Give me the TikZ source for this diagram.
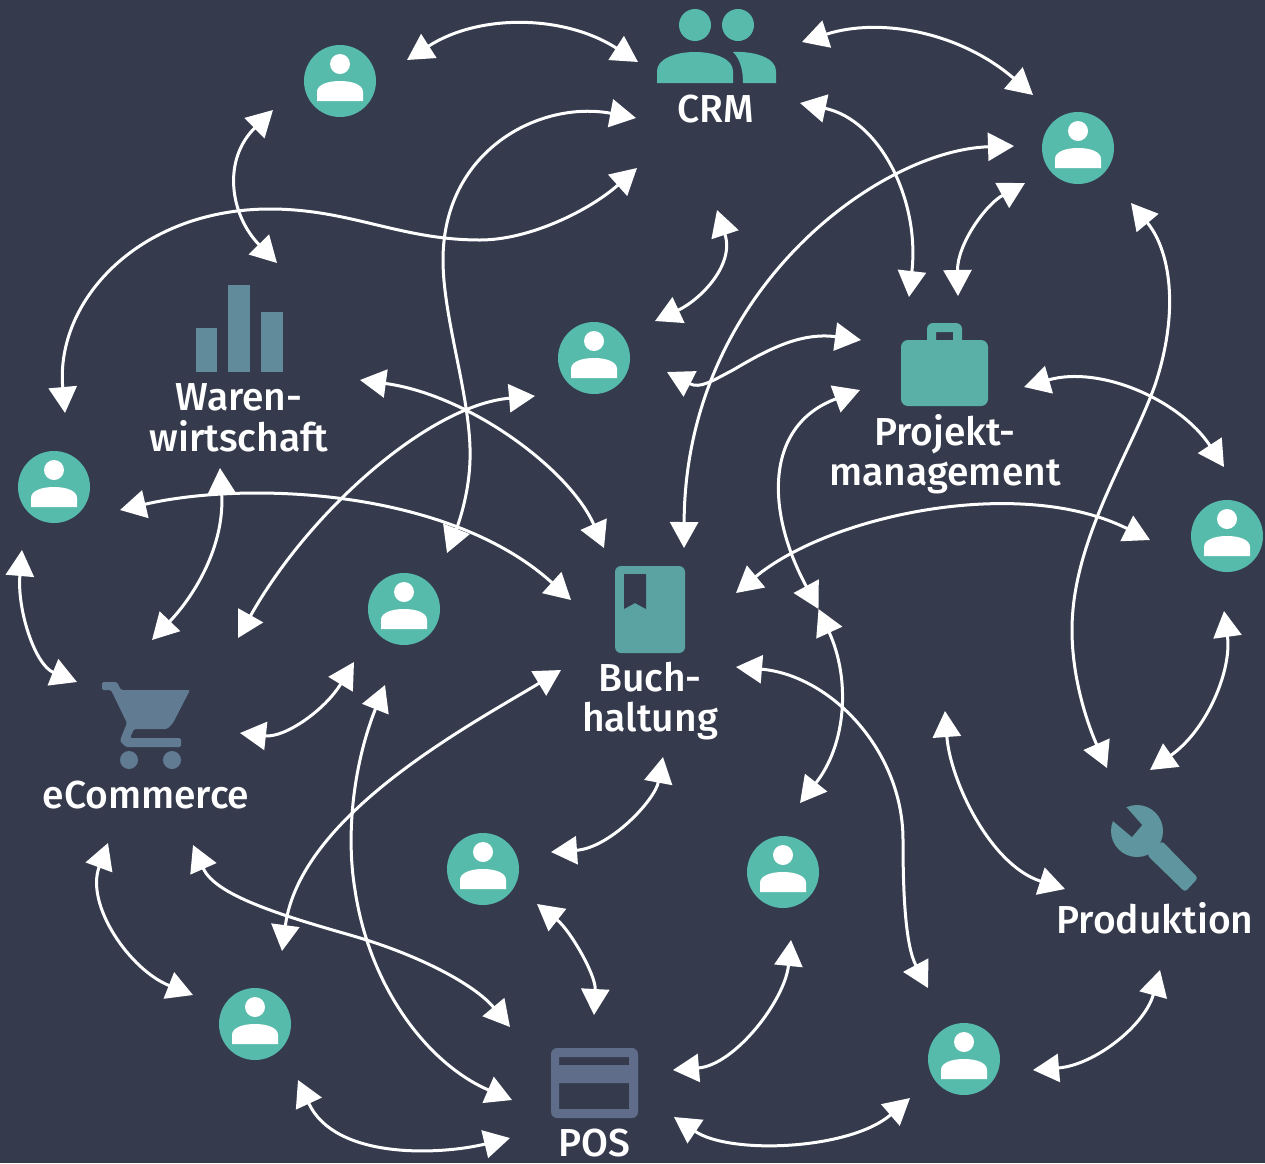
\documentclass[tikz,border=0pt]{standalone}
\usepackage{fontspec}
\setmainfont{Fira Sans}[UprightFont=* Medium]
\usetikzlibrary{arrows.meta}
\definecolor{bgcol}{HTML}{353B4D}
\definecolor{usercol}{HTML}{57BBAB}
\definecolor{crmcol}{HTML}{57BAAA}
\definecolor{projectcol}{HTML}{5AB0A7}
\definecolor{buchcol}{HTML}{5BA3A3}
\definecolor{prodcol}{HTML}{5E959E}
\definecolor{warencol}{HTML}{618A9B}
\definecolor{ecomcol}{HTML}{617B93}
\definecolor{poscol}{HTML}{5F6D8A}
\tikzset{
 usernode/.style={circle,fill=usercol,minimum size=72pt,inner sep=0pt,
  path picture={
   \fill[white] ([shift={(0,-17)}]path picture bounding box.center) circle (10);
   \fill[white] ([shift={(-23,20)}]path picture bounding box.center) -- ++(0,-9)
    .. controls ++(0,-7) and ++(-13,0) .. ++(23,-11)
    .. controls ++(13,0) and ++(0,-7) .. ++(23,11) -- ++(0,9) -- cycle;
  }},
 label/.style={text=white,font=\fontsize{39}{40.5}\selectfont,align=center,inner sep=0pt},
 link/.style={<->,>={Triangle[length=26pt,width=28pt]},draw=white,line width=3pt}
}
\begin{document}
\begin{tikzpicture}[x=1pt,y=-1pt]
 \useasboundingbox (0,0) rectangle (1265,1163);
 \fill[bgcol] (0,0) rectangle (1265,1163);

 \foreach \name/\x/\y in {user1/340/81,user2/1078/148,user3/594/358,user4/54/487,user5/1227/536,
  user6/404/609,user7/483/869,user8/783/872,user9/255/1024,user10/964/1059}
  \node[usernode] (\name) at (\x,\y) {};

 \node[label] (crm) at (716,109) {CRM};
 \node[label] (waren) at (239,418) {Waren-\\wirtschaft};
 \node[label] (project) at (945,454) {Projekt-\\management};
 \node[label] (buch) at (650,701) {Buch-\\haltung};
 \node[label] (ecom) at (146,795) {eCommerce};
 \node[label] (prod) at (1155,918) {Produktion};
 \node[label] (pos) at (594,1143) {POS};

 \coordinate (freeA) at (717,210);
 \coordinate (freeB) at (945,711);
 \coordinate (meet) at (818.5,609);

 \fill[crmcol] (695,25) circle (16) (738,25) circle (16);
 \fill[crmcol] (657,83) -- (657,71) .. controls (657,59) and (675,52) .. (695,52)
  .. controls (715,52) and (733,59) .. (733,71) -- (733,83) -- cycle;
 \fill[crmcol] (733,52) .. controls (755,51) and (776,58) .. (776,71) -- (776,83) -- (743,83)
  .. controls (743,72) and (741,60) .. (733,52) -- cycle;

 \foreach \xa/\ya/\xb in {196/328/217,228/285/250,261/312/283}
  \fill[warencol] (\xa,\ya) rectangle (\xb,372);

 \fill[projectcol,rounded corners=7pt] (901,340) rectangle (988,406);
 \fill[projectcol,even odd rule] [rounded corners=6pt] (927,345) -- (927,323) -- (962,323) -- (962,345) -- cycle
  [sharp corners] (936,332) rectangle (953,340);

 \fill[buchcol,rounded corners=6pt] (615,566) rectangle (685,653);
 \fill[bgcol] (624,574) -- (646,574) -- (646,609) -- (635,603) -- (624,609) -- cycle;

 \fill[ecomcol,rounded corners=1.5pt] (102,682) -- (117,682) -- (121,690) -- (190,690) -- (173,723)
  -- (167,729) -- (134,729) -- (130,738) -- (181,738) -- (181,747) -- (126,747) -- (120,741)
  -- (122,735) -- (127,723) -- (111,690) -- (102,690) -- cycle;
 \fill[ecomcol] (129,760) circle (9) (172,760) circle (9);

 \fill[prodcol] (1137,831) circle (26);
 \fill[prodcol,rounded corners=3pt] (1162,841) -- (1198,878) -- (1185,892) -- (1147,855) -- cycle;
 \fill[bgcol] (1113,821) -- (1132,837) -- (1142,825) -- (1127,808) -- (1112,800) -- (1100,815) -- cycle;

 \fill[poscol,even odd rule] [rounded corners=6pt] (551,1048) -- (638,1048) -- (638,1118) -- (551,1118) -- cycle
  [sharp corners] (559,1057) rectangle (629,1065) (559,1083) rectangle (629,1109);

 \draw[link] ([shift={(67,-21)}]user1.center) .. controls (480,13) and (565,15) .. ([shift={(-78,-47)}]crm.center);
 \draw[link] ([shift={(86,-67)}]crm.center) .. controls (880,17) and (960,32) .. ([shift={(-45,-53)}]user2.center);
 \draw[link] ([shift={(-67,29)}]user1.center) .. controls (222,160) and (230,215) .. ([shift={(38,-155)}]waren.center);
 \draw[link] ([shift={(-79,59)}]crm.center) .. controls (590,210) and (530,240) .. (480,240)
  .. controls (400,240) and (350,209) .. (270,209) .. controls (140,209) and (55,300) .. ([shift={(11,-74)}]user4.center);
 \draw[link] ([shift={(-80,9)}]crm.center) .. controls (540,100) and (443,150) .. (443,260)
  .. controls (443,320) and (472,400) .. (470,460) .. controls (469,495) and (458,525) .. ([shift={(43,-56)}]user6.center);
 \draw[link] ([shift={(84,-6)}]crm.center) .. controls (880,120) and (920,200) .. ([shift={(-36,-157)}]project.center);
 \draw[link] ([shift={(-64,-2)}]user2.center) .. controls (880,150) and (685,290) .. ([shift={(34,-153)}]buch.center);
 \draw[link] ([shift={(-53,35)}]user2.center) .. controls (985,205) and (957,245) .. ([shift={(13,-158)}]project.center);
 \draw[link] ([shift={(61,-37)}]user3.center) .. controls (700,300) and (735,265) .. (freeA);
 \draw[link] ([shift={(73,14)}]user3.center) .. controls (700,389) and (712,381) .. (733,370)
  .. controls (767,350) and (800,332) .. ([shift={(-84,-114)}]project.center);
 \draw[link] ([shift={(79,-67)}]project.center) .. controls (1100,365) and (1180,400) .. ([shift={(-3,-69)}]user5.center);
 \draw[link] ([shift={(-85,-64)}]project.center) .. controls (765,425) and (765,510) .. (meet);
 \draw[link] (meet) .. controls (851,680) and (846,745) .. ([shift={(17,-69)}]user8.center);
 \draw[link] ([shift={(86,-108)}]buch.center) .. controls (830,515) and (1020,475) .. ([shift={(-77,4)}]user5.center);
 \draw[link] ([shift={(53,55)}]user2.center) .. controls (1170,250) and (1180,310) .. (1155,385)
  .. controls (1130,455) and (1072,540) .. (1072,630) .. controls (1072,680) and (1088,725) .. ([shift={(-48,-150)}]prod.center);
 \draw[link] ([shift={(-3,75)}]user5.center) .. controls (1232,670) and (1207,730) .. ([shift={(-5,-148)}]prod.center);
 \draw[link] (freeB) .. controls (950,780) and (990,865) .. ([shift={(-90,-29)}]prod.center);
 \draw[link] ([shift={(121,-38)}]waren.center) .. controls (470,395) and (570,470) .. ([shift={(-46,-153)}]buch.center);
 \draw[link] ([shift={(-59,38)}]user3.center) .. controls (430,405) and (310,510) .. ([shift={(92,-157)}]ecom.center);
 \draw[link] ([shift={(66,23)}]user4.center) .. controls (250,480) and (450,490) .. ([shift={(-79,-101)}]buch.center);
 \draw[link] ([shift={(-19,50)}]waren.center) .. controls (225,545) and (195,595) .. ([shift={(6,-155)}]ecom.center);
 \draw[link] ([shift={(-32,63)}]user4.center) .. controls (17,610) and (35,665) .. ([shift={(-69,-113)}]ecom.center);
 \draw[link] ([shift={(94,-62)}]ecom.center) .. controls (285,738) and (325,710) .. ([shift={(-50,53)}]user6.center);
 \draw[link] ([shift={(-19,76)}]user6.center) .. controls (355,760) and (345,830) .. (355,890)
  .. controls (370,990) and (430,1065) .. ([shift={(-82,-43)}]pos.center);
 \draw[link] ([shift={(-89,-31)}]buch.center) .. controls (470,725) and (300,815) .. ([shift={(27,-73)}]user9.center);
 \draw[link] ([shift={(47,50)}]ecom.center) .. controls (215,895) and (280,915) .. (350,935)
  .. controls (420,955) and (475,985) .. ([shift={(-84,-116)}]pos.center);
 \draw[link] ([shift={(-38,48)}]ecom.center) .. controls (85,905) and (130,970) .. ([shift={(-62,-29)}]user9.center);
 \draw[link] ([shift={(68,-17)}]user7.center) .. controls (610,848) and (655,800) .. ([shift={(13,56)}]buch.center);
 \draw[link] ([shift={(54,35)}]user7.center) .. controls (570,930) and (596,975) .. ([shift={(0,-128)}]pos.center);
 \draw[link] ([shift={(8,68)}]user8.center) .. controls (785,1000) and (735,1065) .. ([shift={(79,-73)}]pos.center);
 \draw[link] ([shift={(80,-26)}]pos.center) .. controls (730,1155) and (850,1150) .. ([shift={(-54,39)}]user10.center);
 \draw[link] ([shift={(43,56)}]user9.center) .. controls (335,1160) and (440,1155) .. ([shift={(-84,-5)}]pos.center);
 \draw[link] ([shift={(86,-34)}]buch.center) .. controls (830,675) and (903,750) .. (903,840)
  .. controls (903,890) and (905,945) .. ([shift={(-36,-71)}]user10.center);
 \draw[link] ([shift={(69,11)}]user10.center) .. controls (1095,1065) and (1145,1025) .. ([shift={(5,52)}]prod.center);
\end{tikzpicture}
\end{document}
